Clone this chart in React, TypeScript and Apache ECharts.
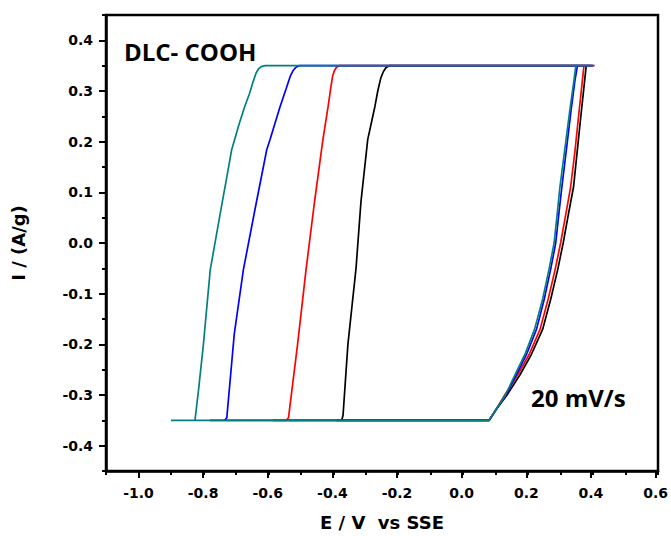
import React, { useEffect, useRef } from "react";
import * as echarts from "echarts";

const xMin = -1.1;
const xMax = 0.6;
const yMin = -0.45;
const yMax = 0.45;
const xMajorStart = -1.0;
const xMajorStep = 0.2;
const yMajorStart = -0.4;
const yMajorEnd = 0.4;
const yMajorStep = 0.1;
const xMinorStep = 0.1;
const yMinorStep = 0.05;

const blackCurve: [number, number][] = [
  [-0.39, -0.35], [0.08, -0.35], [0.1, -0.33], [0.135, -0.3], [0.175, -0.26], [0.21, -0.22],
  [0.245, -0.17], [0.27, -0.11], [0.292, -0.05], [0.308, 0.0], [0.325, 0.06], [0.34, 0.111],
  [0.351, 0.18], [0.364, 0.26], [0.374, 0.32], [0.379, 0.35], [0.395, 0.35],
  [-0.228, 0.35], [-0.238, 0.346], [-0.246, 0.338], [-0.254, 0.325], [-0.263, 0.3],
  [-0.272, 0.269], [-0.294, 0.204], [-0.315, 0.08], [-0.33, -0.05],
  [-0.355, -0.2], [-0.37, -0.34], [-0.374, -0.35],
];

const redCurve: [number, number][] = [
  [-0.585, -0.35], [0.08, -0.35], [0.098, -0.332], [0.128, -0.3], [0.168, -0.26], [0.203, -0.22],
  [0.237, -0.17], [0.262, -0.11], [0.284, -0.05], [0.3, 0.0], [0.317, 0.06], [0.331, 0.111],
  [0.344, 0.18], [0.357, 0.26], [0.367, 0.32], [0.372, 0.35], [0.405, 0.35],
  [-0.382, 0.35], [-0.39, 0.347], [-0.396, 0.341], [-0.402, 0.33], [-0.408, 0.305],
  [-0.416, 0.269], [-0.432, 0.204], [-0.458, 0.08], [-0.484, -0.053],
  [-0.51, -0.2], [-0.538, -0.345], [-0.545, -0.35],
];

const blueCurve: [number, number][] = [
  [-0.78, -0.35], [0.08, -0.35], [0.1, -0.33], [0.132, -0.3], [0.164, -0.26], [0.195, -0.22],
  [0.226, -0.17], [0.25, -0.11], [0.27, -0.05], [0.285, 0.0], [0.295, 0.06], [0.304, 0.111],
  [0.317, 0.18], [0.332, 0.26], [0.344, 0.32], [0.352, 0.35], [0.4, 0.35],
  [-0.505, 0.35], [-0.515, 0.347], [-0.523, 0.341], [-0.532, 0.33], [-0.545, 0.305],
  [-0.564, 0.269], [-0.595, 0.204], [-0.605, 0.184], [-0.64, 0.07],
  [-0.677, -0.053], [-0.705, -0.18], [-0.728, -0.345], [-0.735, -0.35],
];

const tealCurve: [number, number][] = [
  [-0.9, -0.35], [0.08, -0.35], [0.1, -0.33], [0.13, -0.3], [0.16, -0.26], [0.19, -0.22],
  [0.22, -0.17], [0.245, -0.11], [0.265, -0.05], [0.28, 0.0], [0.29, 0.06], [0.298, 0.111],
  [0.312, 0.18], [0.328, 0.26], [0.341, 0.32], [0.347, 0.35], [0.402, 0.35],
  [-0.61, 0.35], [-0.622, 0.348], [-0.631, 0.343], [-0.638, 0.335], [-0.646, 0.32],
  [-0.658, 0.295], [-0.673, 0.269], [-0.69, 0.235], [-0.704, 0.204], [-0.713, 0.184],
  [-0.728, 0.13], [-0.745, 0.07], [-0.779, -0.053], [-0.8, -0.2],
  [-0.815, -0.29], [-0.826, -0.35],
];

const seriesDefs = [
  { name: "black", color: "#000000", data: blackCurve },
  { name: "red", color: "#ff0000", data: redCurve },
  { name: "blue", color: "#0000ff", data: blueCurve },
  { name: "teal", color: "#008080", data: tealCurve },
];

const labelFont = "DejaVu Sans";

export default function App() {
  const ref = useRef<HTMLDivElement>(null);
  useEffect(() => {
    if (!ref.current) return;
    const chart = echarts.init(ref.current, undefined, { renderer: "svg" });
    const W = 671;
    const H = 536;
    const gLeft = 106;
    const gRight = 13;
    const gTop = 15;
    const gBottom = 65;
    const pxPerX = (W - gLeft - gRight) / (xMax - xMin);
    const pxPerY = (H - gTop - gBottom) / (yMax - yMin);
    const majorLeft = gLeft + (xMajorStart - xMin) * pxPerX;
    const majorTop = gTop + (yMax - yMajorEnd) * pxPerY;
    const majorBottom = gBottom + (yMajorStart - yMin) * pxPerY;
    const fmt = (v: number) => (Math.abs(v) < 1e-9 ? "0.0" : v.toFixed(1));
    const tickStyle = { color: "#000", width: 2 };
    const labelStyle = {
      fontFamily: labelFont,
      fontWeight: "bold",
      fontSize: 14,
      color: "#000",
      formatter: fmt,
    };
    const hidden = { show: false };
    chart.setOption({
      animation: false,
      backgroundColor: "#ffffff",
      grid: [
        {
          left: gLeft, right: gRight, top: gTop, bottom: gBottom,
          show: true, borderColor: "#000", borderWidth: 2.5, backgroundColor: "transparent",
        },
        { left: majorLeft, right: gRight, top: gTop, bottom: gBottom },
        { left: gLeft, right: gRight, top: majorTop, bottom: majorBottom },
      ],
      xAxis: [
        {
          gridIndex: 0,
          type: "value",
          min: xMin,
          max: xMax,
          interval: xMinorStep,
          position: "bottom",
          name: "E / V  vs SSE",
          nameLocation: "middle",
          nameGap: 42,
          nameTextStyle: { fontFamily: labelFont, fontWeight: "bold", fontSize: 18, color: "#000" },
          axisLine: { show: true, onZero: false, lineStyle: { color: "#000", width: 2.5 } },
          axisTick: { show: true, length: 4, lineStyle: tickStyle },
          axisLabel: { show: false },
          splitLine: { show: false },
        },
        {
          gridIndex: 1,
          type: "value",
          min: xMajorStart,
          max: xMax,
          interval: xMajorStep,
          position: "bottom",
          axisLine: { show: false, onZero: false },
          axisTick: { show: true, length: 7, lineStyle: tickStyle },
          axisLabel: { show: true, margin: 15, ...labelStyle },
          splitLine: { show: false },
        },
        { gridIndex: 2, type: "value", min: xMin, max: xMax, ...hidden },
      ],
      yAxis: [
        {
          gridIndex: 0,
          type: "value",
          min: yMin,
          max: yMax,
          interval: yMinorStep,
          position: "left",
          name: "I / (A/g)",
          nameLocation: "middle",
          nameGap: 79,
          nameTextStyle: { fontFamily: labelFont, fontWeight: "bold", fontSize: 18, color: "#000" },
          axisLine: { show: true, onZero: false, lineStyle: { color: "#000", width: 2.5 } },
          axisTick: { show: true, length: 4, lineStyle: tickStyle },
          axisLabel: { show: false },
          splitLine: { show: false },
        },
        { gridIndex: 1, type: "value", min: yMin, max: yMax, ...hidden },
        {
          gridIndex: 2,
          type: "value",
          min: yMajorStart,
          max: yMajorEnd,
          interval: yMajorStep,
          position: "left",
          axisLine: { show: false, onZero: false },
          axisTick: { show: true, length: 7, lineStyle: tickStyle },
          axisLabel: { show: true, margin: 13, ...labelStyle },
          splitLine: { show: false },
        },
      ],
      series: seriesDefs.map((s) => ({
        type: "line",
        name: s.name,
        data: s.data,
        xAxisIndex: 0,
        yAxisIndex: 0,
        showSymbol: false,
        symbol: "none",
        lineStyle: { color: s.color, width: 1.7 },
        itemStyle: { color: s.color },
      })),
      graphic: [
        {
          type: "text",
          left: 124,
          top: 39,
          style: { text: "DLC- COOH", fill: "#000", font: "bold 24px 'Open Sans'" },
        },
        {
          type: "text",
          left: 531,
          top: 385,
          style: { text: "20 mV/s", fill: "#000", font: "bold 24px 'Open Sans'" },
        },
      ],
    });
    return () => chart.dispose();
  }, []);
  return (
    <div
      ref={ref}
      style={{ position: "fixed", left: 0, top: 0, width: 671, height: 536, background: "#fff" }}
    />
  );
}
